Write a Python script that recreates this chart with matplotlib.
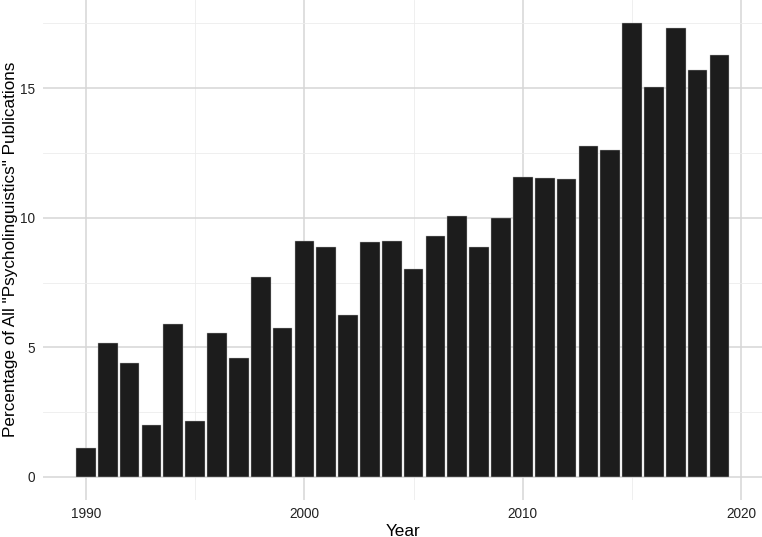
import matplotlib
matplotlib.use('Agg')
import matplotlib.pyplot as plt
import numpy as np

years = list(range(1990, 2020))
percent = [1.12, 5.16, 4.38, 2.00, 5.88, 2.14, 5.57, 4.60, 7.71, 5.74,
           9.11, 8.87, 6.25, 9.05, 9.11, 8.02, 9.29, 10.06, 8.87, 9.99,
           11.57, 11.52, 11.48, 12.77, 12.62, 17.53, 15.05, 17.34, 15.72, 16.27]
x_ticks = [1990, 2000, 2010, 2020]
y_ticks = [0, 5, 10, 15]

plt.rcParams['font.family'] = ['Liberation Sans', 'DejaVu Sans']

W, H = 762, 537
fig = plt.figure(figsize=(W / 100, H / 100), dpi=100)
ax = fig.add_axes([43.4 / W, 37.5 / H, 1 - 43.4 / W, 1 - 37.5 / H])

ax.bar(years, percent, width=0.9, color='#1c1c1c', edgecolor='#bdbdbd', linewidth=0.3, zorder=3)

# ggplot-like expansion
xmin, xmax = years[0] - 0.45, years[-1] + 0.45
xr = xmax - xmin
ax.set_xlim(xmin - 0.05 * xr, xmax + 0.05 * xr)
ymax = max(percent)
ax.set_ylim(-0.05 * ymax, ymax * 1.05)

ax.set_xticks(x_ticks)
ax.set_yticks(y_ticks)
ax.set_xticks([1995, 2005, 2015], minor=True)
ax.set_yticks([2.5, 7.5, 12.5, 17.5], minor=True)
ax.grid(which='major', color='#d6d6d6', lw=1.1, zorder=0)
ax.grid(which='minor', color='#ececec', lw=0.6, zorder=0)
ax.tick_params(which='both', length=0, labelsize=9.8, labelcolor='#222222')
ax.tick_params(axis='x', pad=5.5)
ax.tick_params(axis='y', pad=6)
for s in ax.spines.values():
    s.set_visible(False)

# axis titles placed in figure pixels so they sit at the edges like the reference
fig.text(403 / W, 1.5 / H, 'Year', fontsize=12.3, ha='center', va='baseline')
fig.text(10.5 / W, 1 - 249.5 / H, 'Percentage of All "Psycholinguistics" Publications',
         fontsize=12.3, rotation=90, ha='center', va='center')

fig.savefig('out.png', dpi=100)
